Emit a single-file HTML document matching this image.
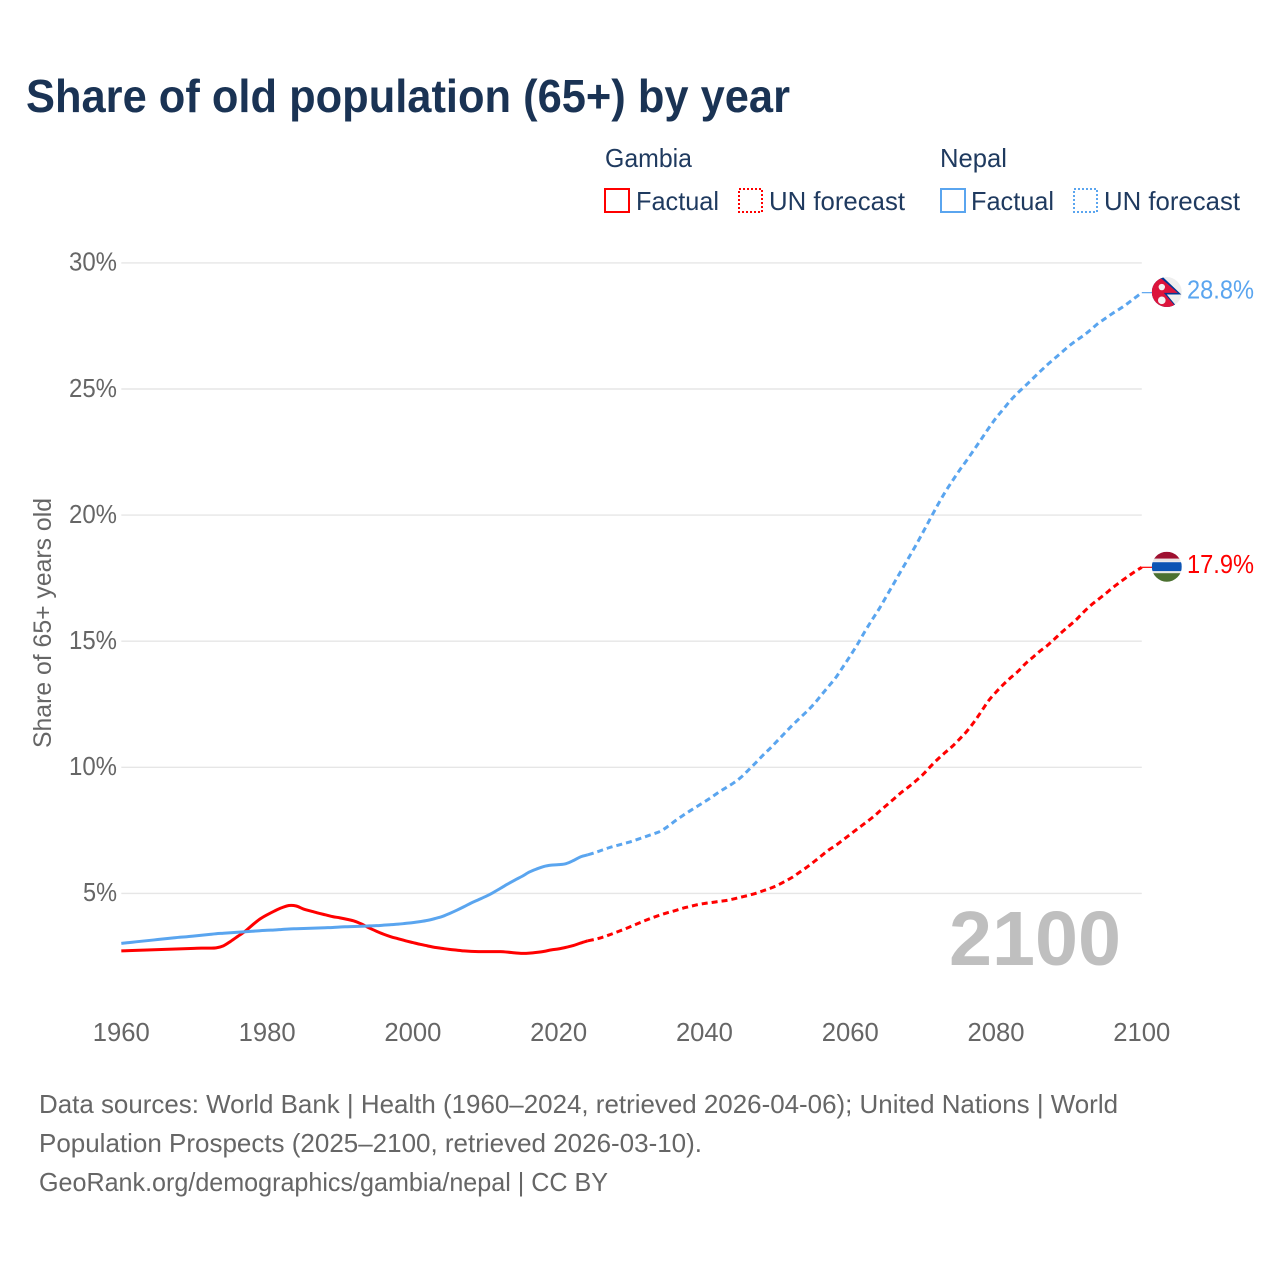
<!DOCTYPE html>
<html lang="en">
<head>
<meta charset="utf-8">
<title>Share of old population (65+) by year</title>
<style>
html,body{margin:0;padding:0;background:#fff;}
svg{display:block;font-family:"Liberation Sans",sans-serif;}
</style>
</head>
<body>
<svg id="chart" width="1280" height="1280" viewBox="0 0 1280 1280" xmlns="http://www.w3.org/2000/svg">
  <defs>
    <clipPath id="flag-clip-circle"><circle cx="0" cy="0" r="15"/></clipPath>
  </defs>
  <rect width="1280" height="1280" fill="#fff"/>
  <text x="26" y="112" font-size="46" font-weight="700" fill="#1a3354" textLength="764" lengthAdjust="spacingAndGlyphs">Share of old population (65+) by year</text>

  <g font-size="26" fill="#1f3a5f">
    <text x="605" y="167" textLength="87" lengthAdjust="spacingAndGlyphs">Gambia</text>
    <rect x="605" y="189" width="24" height="23" fill="none" stroke="#ff0000" stroke-width="2"/>
    <text x="636" y="210" textLength="83" lengthAdjust="spacingAndGlyphs">Factual</text>
    <rect x="739" y="189" width="23" height="23" fill="none" stroke="#ff0000" stroke-width="2" stroke-dasharray="2 2"/>
    <text x="769" y="210" textLength="136" lengthAdjust="spacingAndGlyphs">UN forecast</text>

    <text x="940" y="167" textLength="67" lengthAdjust="spacingAndGlyphs">Nepal</text>
    <rect x="941" y="189" width="24" height="23" fill="none" stroke="#5aa5ef" stroke-width="2"/>
    <text x="971" y="210" textLength="83" lengthAdjust="spacingAndGlyphs">Factual</text>
    <rect x="1074" y="189" width="23" height="23" fill="none" stroke="#5aa5ef" stroke-width="2" stroke-dasharray="2 2"/>
    <text x="1104" y="210" textLength="136" lengthAdjust="spacingAndGlyphs">UN forecast</text>
  </g>

  <g id="grid"></g>
  <g id="y-ticks"></g>
  <g id="x-ticks"></g>
  <text transform="translate(51,748) rotate(-90)" font-size="25" fill="#666666" textLength="250" lengthAdjust="spacingAndGlyphs">Share of 65+ years old</text>
  <text x="949" y="965" font-size="77" font-weight="700" fill="#bfbfbf" textLength="172" lengthAdjust="spacingAndGlyphs">2100</text>

  <g id="series"></g>

  <g id="flag-nepal">
    <g clip-path="url(#flag-clip-circle)">
      <rect x="-15" y="-15" width="30" height="30" fill="#eeeeee"/>
      <polygon points="-15,-17 -4,-15 14.5,2.5 0,2.5 12,17 -15,17" fill="#003893"/>
      <polygon points="-15,-16 -5,-13 11,0.8 -3,0.8 10,16 -15,16" fill="#dc143c"/>
      <circle cx="-5" cy="-5" r="3.2" fill="#f3f3f3"/>
      <circle cx="-5" cy="8.3" r="3.8" fill="#f3f3f3"/>
    </g>
  </g>
  <g id="flag-gambia">
    <g clip-path="url(#flag-clip-circle)">
      <rect x="-15" y="-15" width="30" height="7" fill="#9e1030"/>
      <rect x="-15" y="-8" width="30" height="3" fill="#e8e4e4"/>
      <rect x="-15" y="-4.5" width="30" height="9" fill="#0c54b4"/>
      <rect x="-15" y="4.5" width="30" height="2.5" fill="#e8e8e4"/>
      <rect x="-15" y="6.5" width="30" height="9" fill="#4b7030"/>
    </g>
  </g>
  <text id="end-label-nepal" x="1187" font-size="26" fill="#5aa5ef" textLength="67" lengthAdjust="spacingAndGlyphs"></text>
  <text id="end-label-gambia" x="1187" font-size="26" fill="#ff0000" textLength="67" lengthAdjust="spacingAndGlyphs"></text>

  <g font-size="26" fill="#666666">
    <text x="39" y="1113" textLength="1079" lengthAdjust="spacingAndGlyphs">Data sources: World Bank | Health (1960–2024, retrieved 2026-04-06); United Nations | World</text>
    <text x="39" y="1152" textLength="663" lengthAdjust="spacingAndGlyphs">Population Prospects (2025–2100, retrieved 2026-03-10).</text>
    <text x="39" y="1191" textLength="569" lengthAdjust="spacingAndGlyphs">GeoRank.org/demographics/gambia/nepal | CC BY</text>
  </g>
</svg>
<script>
const xTickYears = [1960, 1980, 2000, 2020, 2040, 2060, 2080, 2100];
const yTickValues = [5, 10, 15, 20, 25, 30];
const factualStartYear = 1960;
const forecastStartYear = 2024;

const gambiaFactual = [2.72,2.73,2.74,2.75,2.76,2.77,2.78,2.79,2.80,2.81,2.82,2.83,2.83,2.84,2.92,3.10,3.30,3.50,3.75,3.98,4.15,4.30,4.43,4.52,4.50,4.38,4.30,4.22,4.15,4.08,4.03,3.97,3.90,3.78,3.63,3.50,3.38,3.28,3.20,3.12,3.05,2.98,2.92,2.86,2.82,2.78,2.75,2.72,2.70,2.69,2.69,2.69,2.69,2.67,2.64,2.62,2.63,2.66,2.70,2.76,2.80,2.86,2.93,3.03,3.12];
const gambiaForecast = [3.12,3.18,3.26,3.36,3.47,3.58,3.70,3.82,3.94,4.05,4.15,4.24,4.32,4.41,4.48,4.55,4.60,4.64,4.68,4.72,4.78,4.85,4.92,5.00,5.10,5.20,5.32,5.47,5.63,5.83,6.03,6.25,6.48,6.71,6.90,7.12,7.34,7.56,7.78,8.00,8.25,8.50,8.75,9.00,9.22,9.46,9.72,10.03,10.32,10.58,10.83,11.12,11.43,11.80,12.22,12.65,12.98,13.28,13.55,13.80,14.10,14.35,14.60,14.82,15.08,15.35,15.60,15.85,16.15,16.42,16.65,16.88,17.12,17.34,17.55,17.75,17.93];
const nepalFactual = [3.02,3.05,3.08,3.11,3.14,3.17,3.20,3.23,3.26,3.28,3.31,3.34,3.37,3.40,3.42,3.44,3.46,3.48,3.50,3.52,3.54,3.55,3.57,3.59,3.60,3.61,3.62,3.63,3.64,3.65,3.67,3.68,3.69,3.70,3.71,3.72,3.74,3.76,3.78,3.81,3.84,3.88,3.93,4.00,4.08,4.20,4.33,4.47,4.62,4.75,4.88,5.03,5.20,5.37,5.53,5.68,5.85,5.97,6.07,6.12,6.14,6.18,6.30,6.45,6.53];
const nepalForecast = [6.53,6.62,6.72,6.82,6.90,6.98,7.06,7.16,7.26,7.36,7.47,7.66,7.88,8.08,8.27,8.45,8.63,8.82,9.02,9.20,9.38,9.60,9.88,10.17,10.47,10.75,11.05,11.35,11.65,11.93,12.20,12.50,12.85,13.20,13.55,13.98,14.42,14.88,15.38,15.85,16.30,16.80,17.30,17.80,18.30,18.80,19.33,19.87,20.40,20.90,21.35,21.78,22.18,22.60,23.02,23.45,23.85,24.20,24.55,24.85,25.12,25.40,25.68,25.95,26.20,26.45,26.70,26.92,27.12,27.35,27.60,27.80,28.00,28.18,28.38,28.60,28.82];

const NS = 'http://www.w3.org/2000/svg';
function xScale(year) { return 121.3 + (year - 1960) * (1141.8 - 121.3) / 140; }
function yScale(value) { return 893.4 - (value - 5) * 25.22; }

const gridGroup = document.getElementById('grid');
const yTickGroup = document.getElementById('y-ticks');
const xTickGroup = document.getElementById('x-ticks');
const seriesGroup = document.getElementById('series');

yTickValues.forEach(function (v) {
  const line = document.createElementNS(NS, 'line');
  
  
  line.setAttribute('x1', xScale(1960));
  line.setAttribute('x2', xScale(2100));
  line.setAttribute('y1', yScale(v));
  line.setAttribute('y2', yScale(v));
  line.setAttribute('stroke', '#e6e6e6');
  line.setAttribute('stroke-width', '1.4');
  gridGroup.appendChild(line);

  const label = document.createElementNS(NS, 'text');
  
  
  label.setAttribute('x', '117');
  label.setAttribute('y', yScale(v) + 7.8);
  label.setAttribute('text-anchor', 'end');
  label.setAttribute('font-size', '26');
  label.setAttribute('fill', '#666666');
  label.setAttribute('textLength', v < 10 ? '34' : '48');
  label.setAttribute('lengthAdjust', 'spacingAndGlyphs');
  label.textContent = v + '%';
  yTickGroup.appendChild(label);
});

xTickYears.forEach(function (year) {
  const label = document.createElementNS(NS, 'text');
  
  
  label.setAttribute('x', xScale(year));
  label.setAttribute('y', '1041');
  label.setAttribute('text-anchor', 'middle');
  label.setAttribute('font-size', '26');
  label.setAttribute('fill', '#666666');
  label.setAttribute('textLength', '57');
  label.setAttribute('lengthAdjust', 'spacingAndGlyphs');
  label.textContent = year;
  xTickGroup.appendChild(label);
});

function linePath(values, startYear) {
  const pts = values.map(function (v, i) {
    return [xScale(startYear + i), yScale(v)];
  });
  let d = 'M' + pts[0][0].toFixed(2) + ' ' + pts[0][1].toFixed(2);
  for (let i = 0; i < pts.length - 1; i++) {
    const p0 = pts[Math.max(i - 1, 0)];
    const p1 = pts[i];
    const p2 = pts[i + 1];
    const p3 = pts[Math.min(i + 2, pts.length - 1)];
    const c1x = p1[0] + (p2[0] - p0[0]) / 6;
    const c1y = p1[1] + (p2[1] - p0[1]) / 6;
    const c2x = p2[0] - (p3[0] - p1[0]) / 6;
    const c2y = p2[1] - (p3[1] - p1[1]) / 6;
    d += 'C' + c1x.toFixed(2) + ' ' + c1y.toFixed(2) + ' ' + c2x.toFixed(2) + ' ' + c2y.toFixed(2) + ' ' + p2[0].toFixed(2) + ' ' + p2[1].toFixed(2);
  }
  return d;
}

function drawLine(values, startYear, color, dashed) {
  const line = document.createElementNS(NS, 'path');
  line.setAttribute('d', linePath(values, startYear));
  line.setAttribute('fill', 'none');
  line.setAttribute('stroke', color);
  line.setAttribute('stroke-width', '3');
  line.setAttribute('stroke-linejoin', 'round');
  if (dashed) { line.setAttribute('stroke-dasharray', '6 4'); }
  seriesGroup.appendChild(line);
  return line;
}

const gambiaFactualLine = drawLine(gambiaFactual, factualStartYear, '#ff0000', false);


const gambiaForecastLine = drawLine(gambiaForecast, forecastStartYear, '#ff0000', true);


const nepalFactualLine = drawLine(nepalFactual, factualStartYear, '#5aa5ef', false);


const nepalForecastLine = drawLine(nepalForecast, forecastStartYear, '#5aa5ef', true);



function drawEnd(values, color, flagId, labelId) {
  const last = values[values.length - 1];
  const y = yScale(last);
  const connector = document.createElementNS(NS, 'line');
  connector.setAttribute('x1', xScale(2100));
  connector.setAttribute('x2', '1152');
  connector.setAttribute('y1', y);
  connector.setAttribute('y2', y);
  connector.setAttribute('stroke', color);
  connector.setAttribute('stroke-width', '1.2');
  seriesGroup.appendChild(connector);
  document.getElementById(flagId).setAttribute('transform', 'translate(1166.8,' + (y - 0.6) + ')');
  const label = document.getElementById(labelId);
  label.setAttribute('y', y + 5.8);
  label.textContent = last.toFixed(1) + '%';
  return connector;
}

const gambiaConnector = drawEnd(gambiaForecast, '#ff0000', 'flag-gambia', 'end-label-gambia');


const nepalConnector = drawEnd(nepalForecast, '#5aa5ef', 'flag-nepal', 'end-label-nepal');


</script>
</body>
</html>
